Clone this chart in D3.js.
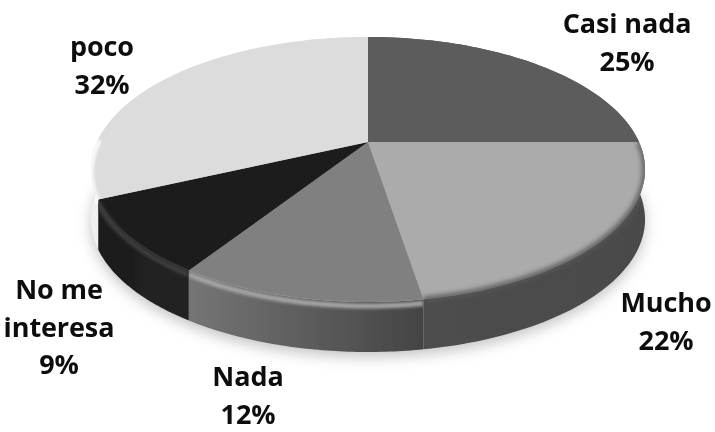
<!DOCTYPE html>
<html><head><meta charset="utf-8">
<script src="https://cdn.jsdelivr.net/npm/d3@7"></script>
<style>html,body{margin:0;background:#fff}svg{display:block}text{font-family:"Open Sans",sans-serif;font-weight:700;fill:#111}</style>
</head><body><svg id="c" width="715" height="432"></svg>
<script>
const categories=["Casi nada","Mucho","Nada","No me interesa","poco"];
const values=[25.0,22.4,11.8,9.0,31.8];
const topColors=["#5c5c5c","#ababab","#808080","#1f1f1f","#dcdcdc"];
const sideStops=[["#555","#5a5a5a"],["#4d4d4d","#4a4a4a"],["#757575","#444"],["#1c1c1c","#242424"],["#f0f0f0","#e0e0e0"]];
const rimColors=["#5c5c5c","#565656","#a6a6a6","#3c3c3c","#fbfbfb"];
const rimOffset=[0,0,4,4,3];
const labelLines=[["Casi nada"],["Mucho"],["Nada"],["No me","interesa"],["poco"]];
const labelPos=[[627,33],[666,312],[248,386],[59,299],[102,56]];

const svg=d3.select("#c"), defs=svg.append("defs");
const cx=368,cy=142,W=271,H=126.8,K=0.2075,depth=50;
const proj=(a,dy=0)=>{const u=Math.sin(a),v=-Math.cos(a),w=1-K*v;return [cx+W*u/w,cy+H*v/w+dy];};
const pie=d3.pie().sort(null).value(d=>d)(values);
const line=d3.line();
const angles=d=>d3.range(0,61).map(i=>d.startAngle+(d.endAngle-d.startAngle)*i/60);
const arcPts=(d,dy=0)=>angles(d).map(a=>proj(a,dy));
const blur=(id,s)=>defs.append("filter").attr("id",id).attr("x","-20%").attr("y","-20%").attr("width","140%").attr("height","140%").append("feGaussianBlur").attr("stdDeviation",s);
blur("b8",7);blur("b3",2.6);blur("b2",1.8);blur("t",0.4);blur("all",0.6);

// soft shadow
const full=d3.range(0,121).map(i=>proj(i/120*2*Math.PI));
svg.append("path").attr("d",line(full.map(p=>[p[0],p[1]+depth+5]))+"Z").attr("fill","#c4c4c4").attr("filter","url(#b8)");

const chart=svg.append("g").attr("filter","url(#all)");

// side walls
pie.forEach((d,i)=>{
  const pts=arcPts(d), xs=d3.extent(pts,p=>p[0]);
  const g=defs.append("linearGradient").attr("id","s"+i).attr("gradientUnits","userSpaceOnUse")
    .attr("x1",xs[0]).attr("x2",Math.max(xs[1],xs[0]+1)).attr("y1",0).attr("y2",0);
  g.append("stop").attr("offset",0).attr("stop-color",sideStops[i][0]);
  g.append("stop").attr("offset",1).attr("stop-color",sideStops[i][1]);
  chart.append("path").attr("d",line(pts.concat(arcPts(d,depth).reverse()))+"Z").attr("fill",`url(#s${i})`);
});

// top faces
pie.forEach((d,i)=>{
  chart.append("path").attr("d",line(arcPts(d).concat([[cx,cy]]))+"Z").attr("fill",topColors[i]);
});

// soft rim on the front edge, kept inside each slice's wedge and wall
pie.forEach((d,i)=>{
  const clip=defs.append("clipPath").attr("id","c"+i);
  clip.append("path").attr("d",line(arcPts(d).concat([[cx,cy]]))+"Z");
  clip.append("path").attr("d",line(arcPts(d).concat(arcPts(d,depth).reverse()))+"Z");
  const front=angles(d).filter(a=>-Math.cos(a)>-0.05).map(a=>proj(a,rimOffset[i]));
  if(front.length>1) chart.append("g").attr("clip-path",`url(#c${i})`).append("path").attr("d",line(front))
    .attr("fill","none").attr("stroke",rimColors[i]).attr("stroke-width",5).attr("filter",i===1?"url(#b3)":"url(#b2)");
});

// labels
const labels=svg.append("g").attr("filter","url(#t)").attr("text-anchor","middle");
categories.forEach((c,i)=>{
  const [x,y]=labelPos[i];
  const lines=labelLines[i].concat([d3.format(".0f")(values[i])+"%"]);
  lines.forEach((t,j)=>labels.append("text").attr("x",x).attr("y",y+j*37.5).attr("font-size",27).attr("letter-spacing",-0.1).text(t));
});
</script></body></html>
